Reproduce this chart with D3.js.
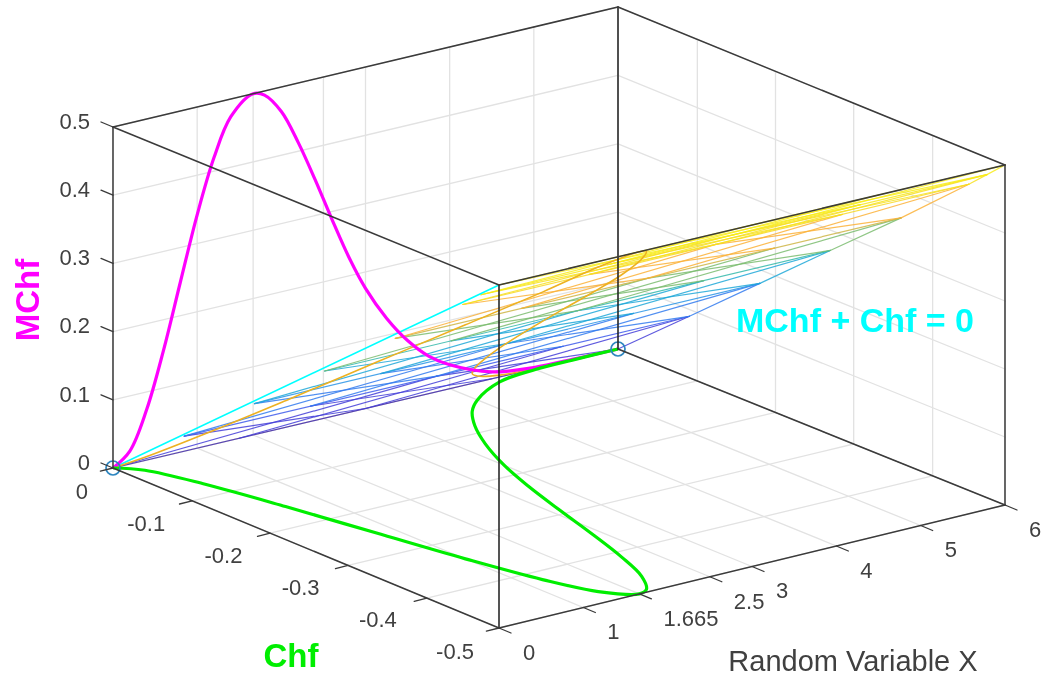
<!DOCTYPE html>
<html>
<head>
<meta charset="utf-8">
<script src="https://cdn.jsdelivr.net/npm/d3@7"></script>
<style>
    html, body { margin: 0; padding: 0; background: #fff; }
    svg { display: block; }
    text { font-family: "Liberation Sans", Arial, sans-serif; }
</style>
</head>
<body>
<svg id="chart" width="1044" height="681"></svg>
<script>
// values, evened out by hand
var xValues = [0, 0.2, 0.4, 0.6, 0.8, 1, 1.2, 1.4, 1.665, 1.8, 2, 2.2, 2.4, 2.6, 2.8, 3, 3.25, 3.5, 3.75, 4, 4.5, 5, 5.5, 6]
var mchfValues = [0, 0.019, 0.074, 0.155, 0.249, 0.342, 0.42, 0.474, 0.5, 0.494, 0.464, 0.413, 0.353, 0.289, 0.228, 0.176, 0.125, 0.085, 0.055, 0.035, 0.01, 0.002, 0.0005, 0]

var xTicks = [0, 1, 1.665, 2.5, 3, 4, 5, 6]
var chfTicks = [0, -0.1, -0.2, -0.3, -0.4, -0.5]
var mchfTicks = [0, 0.1, 0.2, 0.3, 0.4, 0.5]

// wireframe of the plane MChf + Chf = 0
var meshChf = [0, -0.09, -0.18, -0.27, -0.36, -0.45, -0.475, -0.5]
var meshCells = [[0, 3], [3, 6], [1.5, 4.5]]
var markerX = [0, 6]

var colorStops = [0, 0.12, 0.3, 0.45, 0.58, 0.68, 0.8, 0.92, 1]
var colorValues = ["#3e26a8", "#4646e8", "#2f86f0", "#1fa8d8", "#3dbf95", "#b8b84a", "#fbae3a", "#f7e020", "#f9f215"]

var svg = d3.select("#chart")

// no true perspective here, just the eight box corners blended
var floorCorners = [[113, 468], [499, 628], [1005, 505], [618, 349]]
var topCorners = [[113, 127], [499, 285], [1005, 165], [618, 7]]

var scaleX = d3.scaleLinear().domain([0, 6]).range([0, 1])
// the chf axis is not quite even in the picture, its labels are
var scaleY = d3.scaleLinear().domain(chfTicks).range([0, 0.205, 0.407, 0.609, 0.813, 1])
var scaleYLabel = d3.scaleLinear().domain([0, -0.5]).range([0, 1])
var scaleZ = d3.scaleLinear().domain([0, 0.5]).range([0, 1])
var scaleColor = d3.scaleLinear().domain(colorStops).range(colorValues).interpolate(d3.interpolateRgb)

function corner(c, u, v) {
    return [
        c[0][0] * (1 - u) * (1 - v) + c[3][0] * u * (1 - v) + c[1][0] * (1 - u) * v + c[2][0] * u * v,
        c[0][1] * (1 - u) * (1 - v) + c[3][1] * u * (1 - v) + c[1][1] * (1 - u) * v + c[2][1] * u * v
    ]
}

function project(x, y, z) {
    var u = scaleX(x), v = scaleY(y), w = scaleZ(z)
    var a = corner(floorCorners, u, v)
    var b = corner(topCorners, u, v)
    return [a[0] + (b[0] - a[0]) * w, a[1] + (b[1] - a[1]) * w]
}

function seg(g, p, q, color, width) {
    return g.append("line")
        .attr("x1", p[0]).attr("y1", p[1])
        .attr("x2", q[0]).attr("y2", q[1])
        .attr("stroke", color)
        .attr("stroke-width", width)
        .attr("stroke-linecap", "round")
}

var defs = svg.append("defs")
defs.append("filter").attr("id", "soft")
    .attr("x", "-2%").attr("y", "-2%").attr("width", "104%").attr("height", "104%")
    .append("feGaussianBlur").attr("stdDeviation", 0.55)

var root = svg.append("g").attr("filter", "url(#soft)")

// grid on floor and the two back walls
var grid = root.append("g")
var gridColor = "#e2e2e2"
xTicks.forEach(function(x) {
    seg(grid, project(x, 0, 0), project(x, -0.5, 0), gridColor, 1.3)
    seg(grid, project(x, 0, 0), project(x, 0, 0.5), gridColor, 1.3)
})
chfTicks.forEach(function(y) {
    seg(grid, project(0, y, 0), project(6, y, 0), gridColor, 1.3)
    seg(grid, project(6, y, 0), project(6, y, 0.5), gridColor, 1.3)
})
mchfTicks.forEach(function(z) {
    seg(grid, project(0, 0, z), project(6, 0, z), gridColor, 1.3)
    seg(grid, project(6, 0, z), project(6, -0.5, z), gridColor, 1.3)
})

// mesh: level lines, both diagonals per cell, edge at x = 6
var mesh = root.append("g").attr("stroke-opacity", 0.85)
meshChf.forEach(function(y, k) {
    seg(mesh, project(0, y, -y), project(6, y, -y), scaleColor(-y / 0.5), 1.2)
    if (k == meshChf.length - 1) return
    var next = meshChf[k + 1]
    var mid = scaleColor(-(y + next) / 2 / 0.5)
    seg(mesh, project(6, y, -y), project(6, next, -next), mid, 1.2)
    meshCells.forEach(function(c) {
        seg(mesh, project(c[0], y, -y), project(c[1], next, -next), mid, 1.2)
        seg(mesh, project(c[0], next, -next), project(c[1], y, -y), mid, 1.2)
    })
})
seg(mesh, project(0, 0, 0), project(0, -0.5, 0.5), "#00ffff", 1.6).attr("stroke-opacity", 1)

// the three curves, all from the same values
var line = d3.line().curve(d3.curveCatmullRom.alpha(0.5))
var curves = [
    { color: "#edb120", width: 1.6, pts: xValues.map(function(x, i) { return project(x, -mchfValues[i], mchfValues[i]) }) },
    { color: "#ff00ff", width: 3.2, pts: xValues.map(function(x, i) { return project(x, 0, mchfValues[i]) }) },
    { color: "#00ee00", width: 3.2, pts: xValues.map(function(x, i) { return project(x, -mchfValues[i], 0) }) }
]
root.append("g").selectAll("path").data(curves).enter().append("path")
    .attr("fill", "none")
    .attr("stroke", function(d) { return d.color })
    .attr("stroke-width", function(d) { return d.width })
    .attr("d", function(d) { return line(d.pts) })

root.append("g").selectAll("circle").data(markerX).enter().append("circle")
    .attr("cx", function(d) { return project(d, 0, 0)[0] })
    .attr("cy", function(d) { return project(d, 0, 0)[1] })
    .attr("r", 7)
    .attr("fill", "none")
    .attr("stroke", "#2f86c0")
    .attr("stroke-width", 1.7)

// box
var box = root.append("g")
var boxColor = "#3a3a3a"
var front = [[0, -0.5, 0, 0, -0.5, 0.5], [6, 0, 0, 6, 0, 0.5]]
front.forEach(function(e) {
    seg(box, project(e[0], e[1], e[2]), project(e[3], e[4], e[5]), "#1e1e1e", 1.5)
})
var rest = [
    [0, 0, 0, 0, 0, 0.5], [6, -0.5, 0, 6, -0.5, 0.5],
    [0, 0, 0.5, 6, 0, 0.5], [0, 0, 0.5, 0, -0.5, 0.5], [0, -0.5, 0.5, 6, -0.5, 0.5], [6, 0, 0.5, 6, -0.5, 0.5],
    [0, 0, 0, 0, -0.5, 0], [0, -0.5, 0, 6, -0.5, 0], [6, 0, 0, 6, -0.5, 0]
]
rest.forEach(function(e) {
    seg(box, project(e[0], e[1], e[2]), project(e[3], e[4], e[5]), boxColor, 1.5)
})

// ticks
var ticks = root.append("g")
var tickColor = "#404040"
var tickFont = 22

function addLabel(t, p, anchor, dx, dy) {
    ticks.append("text").text(t)
        .attr("x", p[0] + dx).attr("y", p[1] + dy)
        .attr("text-anchor", anchor)
        .attr("dominant-baseline", "middle")
        .attr("font-size", tickFont)
        .attr("fill", tickColor)
}

xTicks.forEach(function(x) {
    var p = project(x, -0.5, 0)
    seg(ticks, p, [p[0] + 12, p[1] + 5], boxColor, 1.3)
    addLabel(x, p, "start", 24, 26)
})
chfTicks.forEach(function(y) {
    var p = project(0, y, 0)
    seg(ticks, p, [p[0] - 12.6, p[1] + 3.2], boxColor, 1.3)
    var s = scaleYLabel(y)
    var q = [floorCorners[0][0] + (floorCorners[1][0] - floorCorners[0][0]) * s,
        floorCorners[0][1] + (floorCorners[1][1] - floorCorners[0][1]) * s]
    addLabel(y, q, "end", -25, 25)
})
mchfTicks.forEach(function(z) {
    var p = project(0, 0, z)
    seg(ticks, p, [p[0] - 12, p[1] - 5], boxColor, 1.3)
    addLabel(z, p, "end", -23, -4)
})

// axis labels
root.append("text").text("Random Variable X")
    .attr("x", 853).attr("y", 671)
    .attr("text-anchor", "middle")
    .attr("font-size", 29)
    .attr("fill", tickColor)

root.append("text").text("Chf")
    .attr("x", 291).attr("y", 667)
    .attr("text-anchor", "middle")
    .attr("font-size", 33)
    .attr("font-weight", "bold")
    .attr("fill", "#00ee00")

root.append("text").text("MChf")
    .attr("transform", "translate(39,300) rotate(-90)")
    .attr("text-anchor", "middle")
    .attr("font-size", 33)
    .attr("font-weight", "bold")
    .attr("fill", "#ff00ff")

root.append("text").text("MChf + Chf = 0")
    .attr("x", 855).attr("y", 332)
    .attr("text-anchor", "middle")
    .attr("font-size", 34)
    .attr("font-weight", "bold")
    .attr("fill", "#00ffff")
</script>
</body>
</html>
